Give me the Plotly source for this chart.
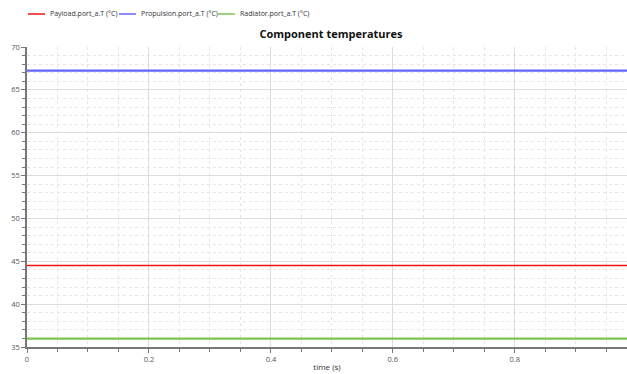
import plotly.graph_objects as go

time = [0.0, 1.0]
payload = [44.5, 44.5]
propulsion = [67.25, 67.25]
radiator = [35.97, 35.97]

names = ["Payload.port_a.T (°C)", "Propulsion.port_a.T (°C)", "Radiator.port_a.T (°C)"]
colors = ["#ee1111", "#6464ff", "#7cc450"]
widths = [1.6, 2.2, 2.2]
series = [payload, propulsion, radiator]

W, H = 627, 374
L, R, T, B = 27, 0, 47, 27
PW = W - L - R
PH = H - T - B

fig = go.Figure()
for n, c, w, s in zip(names, colors, widths, series):
    fig.add_trace(go.Scatter(x=time, y=s, mode="lines", name=n,
                             line=dict(color=c, width=w), showlegend=False))

# manual legend
leg_x = [28, 119, 218]
shapes = []
annotations = []
for lx, n, c in zip(leg_x, names, colors):
    shapes.append(dict(type="line", xref="paper", yref="paper",
                       x0=(lx - L) / PW, x1=(lx + 17 - L) / PW,
                       y0=(H - B - 14) / PH, y1=(H - B - 14) / PH,
                       line=dict(color=c, width=1.5)))
    annotations.append(dict(xref="paper", yref="paper", x=(lx + 20 - L) / PW,
                            y=(H - B - 14) / PH, text=n, showarrow=False,
                            xanchor="left", yanchor="middle",
                            font=dict(family="Open Sans", size=7, color="#333")))

fig.update_layout(
    width=W, height=H,
    margin=dict(l=L, r=R, t=T, b=B),
    paper_bgcolor="white", plot_bgcolor="white",
    title=dict(text="<b>Component temperatures</b>", x=(331) / W, xanchor="center",
               y=1 - 34 / H, yanchor="middle",
               font=dict(family="Open Sans", size=11, color="#111")),
    shapes=shapes, annotations=annotations,
    showlegend=False,
)

axis_common = dict(
    showline=True, linecolor="#777", linewidth=1.5,
    ticks="outside", ticklen=4, tickcolor="#777", tickwidth=1,
    gridcolor="#dddddd", gridwidth=1,
    tickfont=dict(family="Open Sans", size=7.5, color="#555"),
    zeroline=False,
)

fig.update_xaxes(**axis_common, range=[0, 0.984], dtick=0.2, tick0=0,
                 minor=dict(dtick=0.05, ticks="outside", ticklen=3, tickcolor="#777",
                            showgrid=True, gridcolor="#e6e6e6", griddash="dot", gridwidth=1),
                 title=dict(text="time (s)", standoff=2,
                            font=dict(family="Open Sans", size=8, color="#333")))
fig.update_yaxes(**axis_common, range=[35, 70], dtick=5, tick0=35,
                 minor=dict(dtick=1, ticks="outside", ticklen=3, tickcolor="#777",
                            showgrid=True, gridcolor="#e6e6e6", griddash="dot", gridwidth=1))

fig.write_html("out.html")
